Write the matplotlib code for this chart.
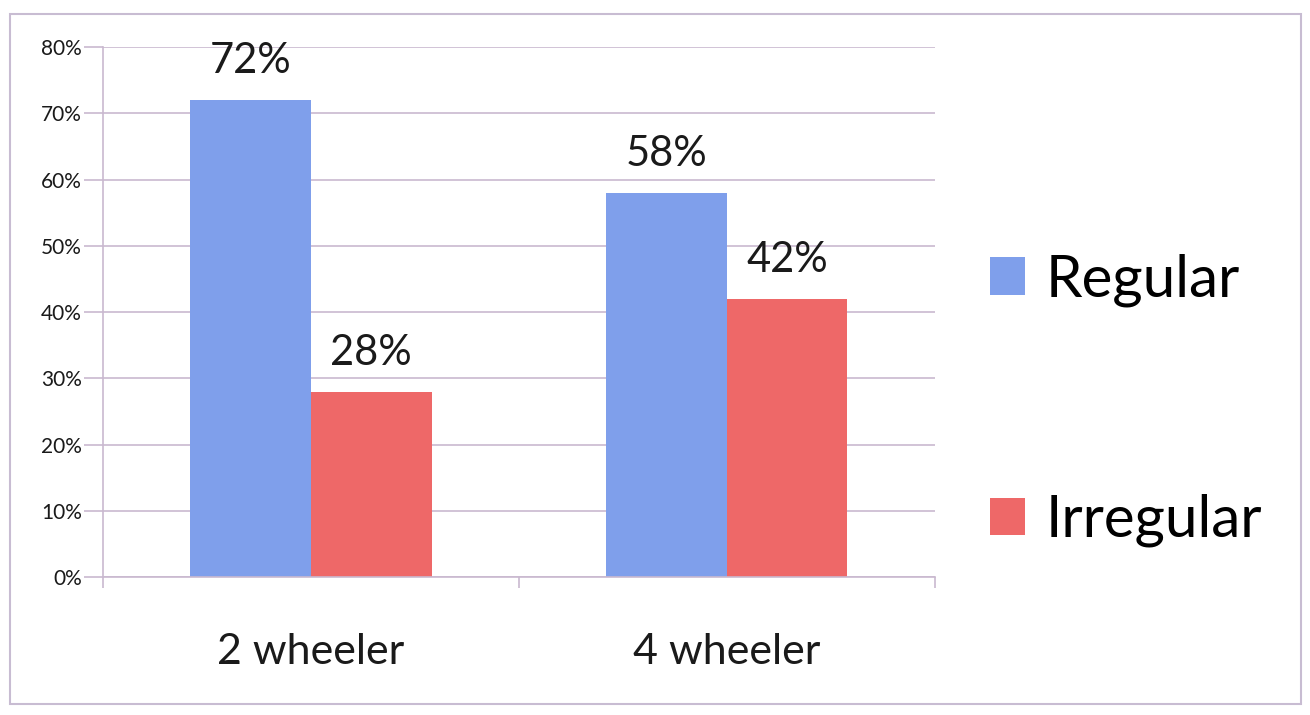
import matplotlib.pyplot as plt
import numpy as np
from matplotlib.patches import Rectangle

categories = ["2 wheeler", "4 wheeler"]
regular = [72, 58]
irregular = [28, 42]
series_names = ["Regular", "Irregular"]
yticks = [0, 10, 20, 30, 40, 50, 60, 70, 80]

plt.rcParams['font.family'] = ['Lato', 'DejaVu Sans']

blue = "#7f9feb"
red = "#ee6868"
grid_c = "#c9b9cf"

fig = plt.figure(figsize=(13.1, 7.15), dpi=100)
ax = fig.add_axes([0.0786, 0.193, 0.635, 0.741])

x = np.arange(len(categories))
w = 0.29
b1 = ax.bar(x - w / 2, regular, w, color=blue, label=series_names[0])
b2 = ax.bar(x + w / 2, irregular, w, color=red, label=series_names[1])

for bars, vals in [(b1, regular), (b2, irregular)]:
    for rect, v in zip(bars, vals):
        ax.text(rect.get_x() + rect.get_width() / 2, v + 3.0, f"{v}%",
                ha='center', va='bottom', fontsize=30, color="#1a1a1a")

ax.set_xlim(-0.5, 1.5)
ax.set_ylim(0, 80)
ax.set_yticks(yticks)
ax.set_yticklabels([f"{t}%" for t in yticks], fontsize=15, color="#1a1a1a")
ax.yaxis.grid(True, color=grid_c, linewidth=1.2)
ax.set_axisbelow(True)
ax.set_xticks(x)
ax.set_xticklabels(categories, fontsize=31, color="#1a1a1a")
ax.tick_params(axis='x', length=0, pad=40)
ax.tick_params(axis='y', length=14, color=grid_c, width=1.2, pad=1)
# small ticks between the groups
ax.set_xticks([-0.5, 0.5, 1.5], minor=True)
ax.tick_params(axis='x', which='minor', length=8, color=grid_c, width=1.2)

for s in ['top', 'right']:
    ax.spines[s].set_visible(False)
ax.spines['left'].set_color(grid_c)
ax.spines['bottom'].set_color(grid_c)
ax.spines['left'].set_linewidth(1.2)
ax.spines['bottom'].set_linewidth(1.2)

fig.legend(handles=[b1, b2], loc='center left', bbox_to_anchor=(0.716, 0.44),
           frameon=False, fontsize=42, handlelength=0.6, handleheight=0.6,
           handletextpad=0.35, labelspacing=3.2)

fig.patches.append(Rectangle((0.008, 0.015), 0.985, 0.965, transform=fig.transFigure,
                             fill=False, edgecolor="#c8bcd2", linewidth=1.5))

fig.savefig("out.png", dpi=100)
